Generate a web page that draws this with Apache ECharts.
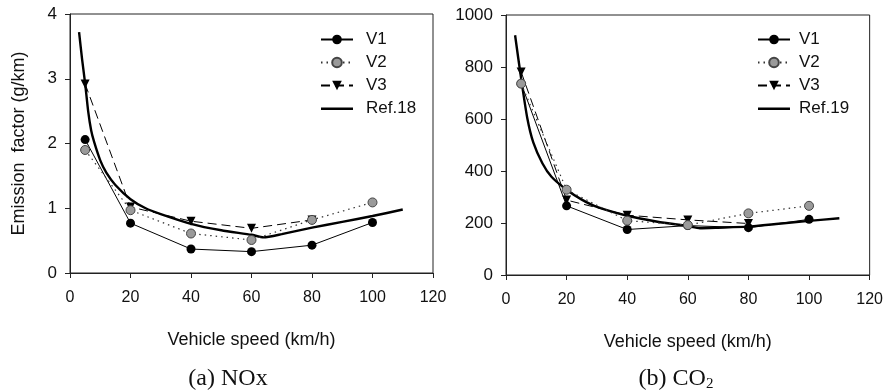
<!DOCTYPE html>
<html>
<head>
<meta charset="utf-8">
<script src="https://cdn.jsdelivr.net/npm/echarts@6/dist/echarts.min.js"></script>
<style>html,body{margin:0;padding:0;background:#fff;}#c{width:886px;height:391px;}</style>
</head>
<body>
<div id="c"></div>
<script>
// ---- data ----
const speeds = [5, 20, 40, 60, 80, 100];
const speedsV3 = [5, 20, 40, 60, 80];
const xTicks = [0, 20, 40, 60, 80, 100, 120];

const noxV1 = [2.06, 0.77, 0.37, 0.33, 0.43, 0.78];
const noxV2 = [1.90, 0.97, 0.61, 0.51, 0.82, 1.09];
const noxV3 = [2.92, 1.02, 0.80, 0.69, 0.82];
const ref18X = [3, 4, 5, 6, 7, 8, 10, 12, 15, 20, 25, 30, 40, 50, 60, 64, 70, 80, 90, 100, 110];
const ref18Y = [3.72, 3.30, 2.93, 2.50, 2.20, 2.02, 1.74, 1.55, 1.36, 1.14, 1.00, 0.91, 0.76, 0.66, 0.59, 0.55, 0.60, 0.70, 0.79, 0.88, 0.98];

const co2V1 = [736, 266, 175, 190, 182, 214];
const co2V2 = [736, 328, 209, 192, 237, 266];
const co2V3 = [781, 288, 230, 212, 198];
const ref19X = [3, 5, 7, 9, 12, 15, 20, 25, 30, 40, 50, 60, 64, 70, 80, 90, 100, 110];
const ref19Y = [922, 755, 605, 510, 430, 378, 328, 290, 262, 228, 205, 188, 180, 182, 186, 197, 208, 218];

const noxTicks = [0, 1, 2, 3, 4];
const co2Ticks = [0, 200, 400, 600, 800, 1000];

const legendNox = ['V1', 'V2', 'V3', 'Ref.18'];
const legendCo2 = ['V1', 'V2', 'V3', 'Ref.19'];

const yTitle = 'Emission  factor (g/km)';
const xTitle = 'Vehicle speed (km/h)';

// ---- helpers ----
const pair = (xs, ys) => ys.map((v, i) => [xs[i], v]);
const FONT = '"Liberation Sans", Arial, sans-serif';
const LINE_ICON = 'path://M0,5 L32,5 L32,7.4 L0,7.4 Z M0,0 L0.01,0 L0.01,0.01 Z M0,12 L0.01,12 L0.01,12.01 Z M32,0 L32.01,0 L32.01,0.01 Z';

function xAxisDef(gi) {
  return {
    gridIndex: gi, type: 'value', min: xTicks[0], max: xTicks[xTicks.length - 1], interval: 20,
    name: xTitle, nameLocation: 'middle', nameGap: 58,
    nameTextStyle: { fontFamily: FONT, fontSize: 18, color: '#111' },
    axisLine: { show: true, lineStyle: { color: '#222', width: 1 } },
    axisTick: { show: true, inside: false, length: 5, lineStyle: { color: '#222' } },
    axisLabel: { fontFamily: FONT, fontSize: 16, color: '#111', margin: 17 },
    splitLine: { show: false }
  };
}
function yAxisDef(gi, ticks, withName) {
  return {
    gridIndex: gi, type: 'value', min: ticks[0], max: ticks[ticks.length - 1], interval: ticks[1] - ticks[0],
    name: withName ? yTitle : '', nameLocation: 'middle', nameGap: 42,
    nameTextStyle: { fontFamily: FONT, fontSize: 18, color: '#111' },
    axisLine: { show: true, lineStyle: { color: '#222', width: 1 } },
    axisTick: { show: true, inside: false, length: 5, lineStyle: { color: '#222' } },
    axisLabel: { fontFamily: FONT, fontSize: 17, color: '#111', margin: 13, formatter: v => String(v) },
    splitLine: { show: false }
  };
}
function seriesSet(gi, v1, v2, v3, rx, ry, refName) {
  return [
    { name: refName, type: 'line', xAxisIndex: gi, yAxisIndex: gi, data: pair(rx, ry),
      showSymbol: false, symbol: 'none', smooth: 0.2,
      lineStyle: { color: '#000', width: 2.4, type: 'solid' }, itemStyle: { color: '#000' }, z: 2 },
    { name: 'V1', type: 'line', xAxisIndex: gi, yAxisIndex: gi, data: pair(speeds, v1),
      symbol: 'circle', symbolSize: 9,
      lineStyle: { color: '#000', width: 1, type: 'solid' },
      itemStyle: { color: '#000', borderColor: '#000', borderWidth: 0 }, z: 3 },
    { name: 'V3', type: 'line', xAxisIndex: gi, yAxisIndex: gi, data: pair(speedsV3, v3),
      symbol: 'triangle', symbolRotate: 180, symbolSize: 9,
      lineStyle: { color: '#000', width: 1, type: [9, 5] },
      itemStyle: { color: '#000' }, z: 3 },
    { name: 'V2', type: 'line', xAxisIndex: gi, yAxisIndex: gi, data: pair(speeds, v2),
      symbol: 'circle', symbolSize: 9,
      lineStyle: { color: '#333', width: 1.2, type: [1.5, 4] },
      itemStyle: { color: '#9a9a9a', borderColor: '#444', borderWidth: 1 }, z: 4 }
  ];
}
function legendDef(left, names, textGap) {
  return {
    orient: 'vertical', left: left, top: 26, itemWidth: 32, itemHeight: 12, itemGap: 6,
    textStyle: { fontFamily: FONT, fontSize: 17, color: '#111', lineHeight: 17, padding: [0, 0, 0, textGap] },
    data: names.map((n, i) => i === 3 ? { name: n, icon: LINE_ICON, itemStyle: { color: '#000', borderWidth: 0 } } : n),
    selectedMode: false
  };
}

const chart = echarts.init(document.getElementById('c'), null, { renderer: 'canvas' });
chart.setOption({
  backgroundColor: '#fff',
  animation: false,
  grid: [
    { left: 70, top: 14, width: 363, height: 259, show: true, borderColor: '#222', borderWidth: 1, backgroundColor: 'transparent' },
    { left: 506, top: 15, width: 364, height: 260, show: true, borderColor: '#222', borderWidth: 1, backgroundColor: 'transparent' }
  ],
  legend: [legendDef(315, legendNox, 8), legendDef(752, legendCo2, 4)],
  xAxis: [xAxisDef(0), xAxisDef(1)],
  yAxis: [yAxisDef(0, noxTicks, true), yAxisDef(1, co2Ticks, false)],
  series: [].concat(
    seriesSet(0, noxV1, noxV2, noxV3, ref18X, ref18Y, 'Ref.18'),
    seriesSet(1, co2V1, co2V2, co2V3, ref19X, ref19Y, 'Ref.19')
  ),
  graphic: [
    { type: 'text', x: 228, y: 379, style: { text: '(a) NOx', font: '24px "Liberation Serif", "Times New Roman", serif', fill: '#111', textAlign: 'center', textVerticalAlign: 'middle' } },
    { type: 'text', x: 676, y: 379, style: {
        text: '(b) CO{sub|2}', font: '24px "Liberation Serif", "Times New Roman", serif', fill: '#111', textAlign: 'center', textVerticalAlign: 'middle',
        rich: { sub: { fontFamily: '"Liberation Serif", serif', fontSize: 15, padding: [10, 0, 0, 0], fill: '#111' } } } }
  ]
});
</script>
</body>
</html>
